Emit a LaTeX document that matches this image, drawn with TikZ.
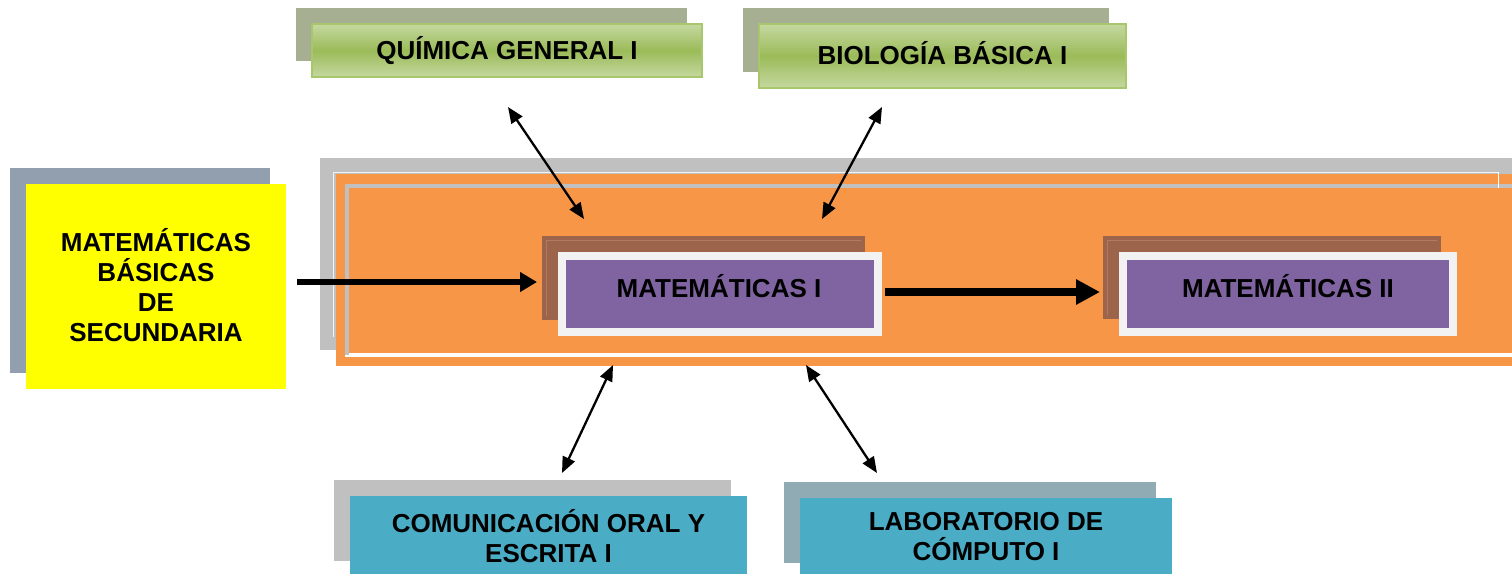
\documentclass[tikz,border=0pt]{standalone}
\usepackage{fontspec}
\setmainfont{Liberation Sans}
\usetikzlibrary{arrows.meta}
\definecolor{orangeC}{HTML}{F79646}
\definecolor{grayC}{HTML}{C0C0C0}
\definecolor{yellowC}{HTML}{FFFF00}
\definecolor{yback}{HTML}{929FAE}
\definecolor{gLight}{HTML}{C5D8A0}
\definecolor{gDark}{HTML}{9BBB59}
\definecolor{gBorder}{HTML}{A8C66C}
\definecolor{gback}{HTML}{A6AF92}
\definecolor{tealC}{HTML}{4BACC6}
\definecolor{tback}{HTML}{91ABB4}
\definecolor{brownC}{HTML}{9D644C}
\definecolor{brownL}{HTML}{B47A60}
\definecolor{purpleC}{HTML}{8064A2}
\definecolor{frameC}{HTML}{F2F2F2}
\tikzset{
  box/.style={inner sep=0pt, outer sep=0pt, align=center, font=\bfseries\fontsize{26}{30}\selectfont},
  greenbox/.style={box, top color=gLight, bottom color=gLight, middle color=gDark, draw=gBorder, line width=2pt},
  tealbox/.style={box, fill=tealC},
  purplebox/.style={box, fill=purpleC, draw=frameC, line width=8pt},
  mtext/.style={inner sep=0pt, font=\bfseries\fontsize{26}{30}\selectfont, align=center},
  bigarrow/.style={line width=6pt, -{Triangle[length=17pt,width=19pt]}},
  hugearrow/.style={line width=7.5pt, -{Triangle[length=24pt,width=24pt]}},
  duo/.style={line width=2.3pt, {Triangle[length=16pt,width=13pt]}-{Triangle[length=16pt,width=13pt]}}
}
\begin{document}
\begin{tikzpicture}[x=1pt,y=-1pt]
\useasboundingbox (0,0) rectangle (1512,574);
% shadows / backs
\fill[yback] (10,168) rectangle (270,373);
\fill[gback] (296,8) rectangle (687,61);
\fill[gback] (743,8) rectangle (1109,72);
\fill[grayC] (334,480) rectangle (731,561);
\fill[tback] (784,482) rectangle (1156,563);
% orange region
\fill[grayC] (320,158) rectangle (1512,350);
\draw[white!80!grayC, line width=0.8pt] (333,337) -- (333,172) -- (1498,172);
\fill[orangeC] (336,174) rectangle (1512,366);
\draw[white, line width=4pt] (345,355) -- (1512,355);
\draw[grayC, line width=4pt] (347,355) -- (347,185.5) -- (1512,185.5);
\draw[white, line width=0.8pt] (1498,172) -- (1498,188);
% yellow
\node[box, fill=yellowC, minimum width=260pt, minimum height=205pt] (yellow) at (156,286.5) {};
\node[mtext] (yellowt) at (156,285) {MATEMÁTICAS\\BÁSICAS\\DE\\SECUNDARIA};
% green boxes
\node[greenbox, minimum width=390pt, minimum height=53pt] (quim) at (507,50.5) {QUÍMICA GENERAL I};
\node[greenbox, minimum width=367pt, minimum height=64pt] (bio) at (942.5,56) {};
\node[box] (biot) at (942.5,53) {BIOLOGÍA BÁSICA I};
% teal boxes
\node[tealbox, minimum width=397pt, minimum height=78pt] (comu) at (548.5,535) {};
\node[box] (comut) at (548.5,536) {COMUNICACIÓN ORAL Y\\ESCRITA I};
\node[tealbox, minimum width=372pt, minimum height=76pt] (lab) at (986,536) {};
\node[box] (labt) at (986,537) {LABORATORIO DE\\CÓMPUTO I};
% matematicas I
\fill[brownC] (542,236) rectangle (865,320);
\draw[brownL, line width=0.8pt] (546,316) -- (546,240) -- (861,240);
\node[purplebox, minimum width=316pt, minimum height=76pt] (mat1) at (720,294) {};
\node[mtext] (mat1t) at (719,286) {MATEMÁTICAS I};
% matematicas II
\fill[brownC] (1103,236) rectangle (1441,319);
\draw[brownL, line width=0.8pt] (1107,315) -- (1107,240) -- (1437,240);
\node[purplebox, minimum width=330pt, minimum height=76pt] (mat2) at (1288,294) {};
\node[mtext] (mat2t) at (1288,286) {MATEMÁTICAS II};
% arrow coordinates
\coordinate (a1s) at (297,282);
\coordinate (a1e) at (537,282);
\coordinate (a2s) at (885,292);
\coordinate (a2e) at (1100,292);
\coordinate (qa) at (508,107);
\coordinate (qb) at (584,219);
\coordinate (ba) at (882,107);
\coordinate (bb) at (822,219);
\coordinate (ca) at (613,365);
\coordinate (cb) at (562,473);
\coordinate (la) at (806,365);
\coordinate (lb) at (877,473);
\draw[bigarrow] (a1s) -- (a1e);
\draw[hugearrow] (a2s) -- (a2e);
\draw[duo] (qa) -- (qb);
\draw[duo] (ba) -- (bb);
\draw[duo] (ca) -- (cb);
\draw[duo] (la) -- (lb);
\end{tikzpicture}
\end{document}
